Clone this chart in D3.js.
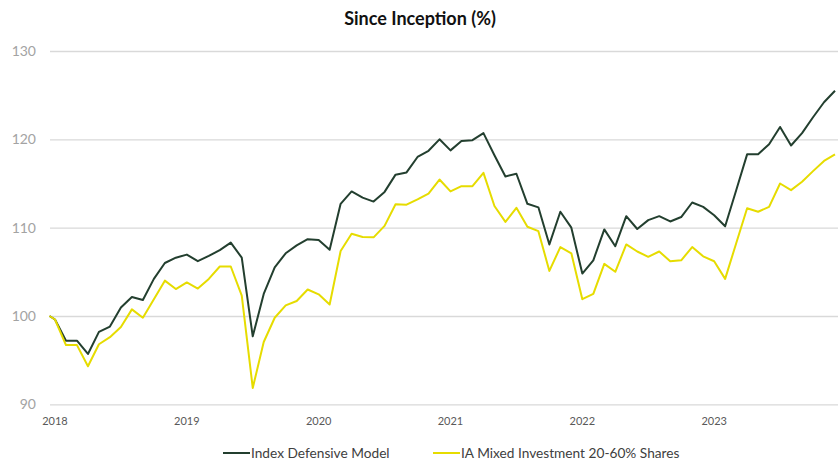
<!DOCTYPE html>
<html>
<head>
<meta charset="utf-8">
<script src="https://cdn.jsdelivr.net/npm/d3@7"></script>
<style>
  body { margin: 0; background: #fff; }
  svg { display: block; font-family: Lato, "Open Sans", sans-serif; }
</style>
</head>
<body>
<div id="chart"></div>
<script>
// first entry is the inception point, the rest are month ends Jan 2018 - Dec 2023
var indexModel = [100,
  99.6, 97.2, 97.2, 95.7, 98.2, 98.8, 100.95, 102.15, 101.8, 104.2, 106.0, 106.6,
  106.95, 106.2, 106.8, 107.45, 108.3, 106.6, 97.7, 102.5, 105.5, 107.1, 108.0, 108.7,
  108.6, 107.5, 112.7, 114.1, 113.4, 112.95, 114.05, 116.0, 116.25, 118.0, 118.7, 120.0,
  118.75, 119.8, 119.9, 120.7, 118.2, 115.8, 116.1, 112.7, 112.3, 108.1, 111.8, 110.0,
  104.8, 106.3, 109.8, 107.9, 111.3, 109.85, 110.85, 111.3, 110.7, 111.2, 112.85, 112.35,
  111.4, 110.15, 114.2, 118.3, 118.3, 119.45, 121.4, 119.3, 120.7, 122.5, 124.2, 125.5];

var iaMixed = [100,
  99.6, 96.7, 96.7, 94.3, 96.8, 97.6, 98.75, 100.75, 99.8, 101.9, 104.0, 103.05,
  103.8, 103.1, 104.2, 105.6, 105.6, 102.3, 91.85, 97.05, 99.8, 101.2, 101.7, 103.0,
  102.45, 101.3, 107.35, 109.3, 108.95, 108.9, 110.2, 112.65, 112.6, 113.2, 113.85, 115.45,
  114.1, 114.7, 114.7, 116.2, 112.45, 110.65, 112.25, 110.1, 109.6, 105.1, 107.8, 107.1,
  101.9, 102.5, 105.9, 105.0, 108.1, 107.3, 106.7, 107.3, 106.2, 106.3, 107.8, 106.75,
  106.2, 104.2, 108.2, 112.2, 111.8, 112.35, 115.0, 114.25, 115.2, 116.4, 117.55, 118.3];

var yearLabels = ["2018", "2019", "2020", "2021", "2022", "2023"];
var yTicks = [90, 100, 110, 120, 130];
var seriesNames = ["Index Defensive Model", "IA Mixed Investment 20-60% Shares"];
var colors = ["#233f2f", "#e6dc00"];

var width = 838, height = 461;
var svg = d3.select("#chart").append("svg").attr("width", width).attr("height", height);

// inception point sits half a month before the first month end
var x = d3.scaleLinear().domain([0.5, indexModel.length - 1]).range([49.5, 835]);
var xPos = function(i) { return x(i === 0 ? 0.5 : i); };
var y = d3.scaleLinear().domain([90, 130]).range([404.3, 51]);

svg.append("text")
  .attr("x", 420).attr("y", 25)
  .attr("text-anchor", "middle")
  .attr("font-size", 18).attr("font-weight", "bold").attr("fill", "#111")
  .text("Since Inception (%)");

// gridlines + y labels
var yAxis = d3.axisLeft(y).tickValues(yTicks).tickSize(-788).tickPadding(14);
var gy = svg.append("g").attr("transform", "translate(50,0)").call(yAxis);
gy.select(".domain").remove();
gy.selectAll(".tick line").attr("stroke", "#d9d9d9").attr("stroke-width", 1.3);
gy.selectAll(".tick text").attr("fill", "#a3a3a3").attr("font-size", 14)
  .attr("font-family", "Lato, sans-serif");

// year labels at each January
var gx = svg.append("g");
gx.selectAll("text").data(yearLabels).enter().append("text")
  .attr("x", function(d, i) { return xPos(1 + 12 * i); })
  .attr("y", 425)
  .attr("text-anchor", "middle")
  .attr("font-size", 11).attr("fill", "#595959")
  .text(function(d) { return d; });

var line = d3.line()
  .x(function(d, i) { return xPos(i); })
  .y(function(d) { return y(d); });

[indexModel, iaMixed].forEach(function(s, k) {
  svg.append("path").datum(s)
    .attr("d", line)
    .attr("fill", "none")
    .attr("stroke", colors[k])
    .attr("stroke-width", 2)
    .attr("stroke-linejoin", "round");
});

// legend
var legendX = [223, 433];
var lg = svg.append("g");
seriesNames.forEach(function(name, k) {
  lg.append("line")
    .attr("x1", legendX[k]).attr("x2", legendX[k] + 27)
    .attr("y1", 453).attr("y2", 453)
    .attr("stroke", colors[k]).attr("stroke-width", 2);
  lg.append("text")
    .attr("x", legendX[k] + 28).attr("y", 458)
    .attr("font-size", 13.7).attr("fill", "#404040")
    .text(name);
});
</script>
</body>
</html>
